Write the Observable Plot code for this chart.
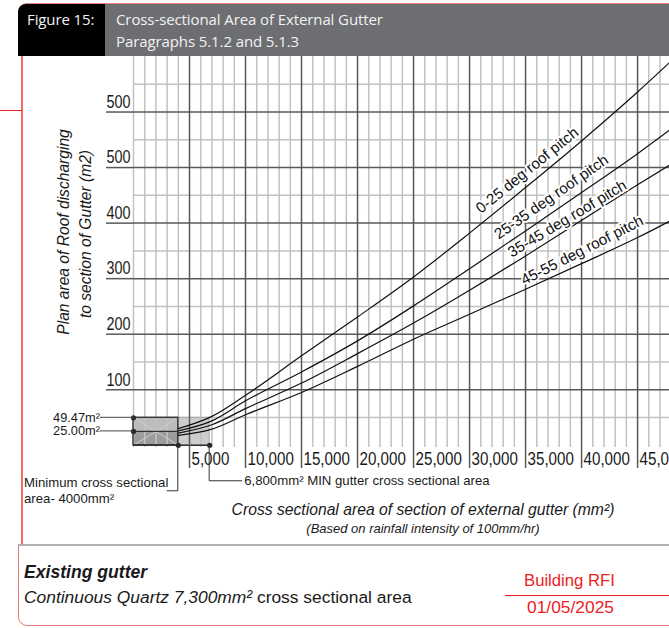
<!DOCTYPE html>
<html><head><meta charset="utf-8">
<script src="https://cdn.jsdelivr.net/npm/d3@7"></script>
<script src="https://cdn.jsdelivr.net/npm/@observablehq/plot@0.6"></script>
<style>
html,body{margin:0;padding:0;background:#fff;width:669px;height:628px;overflow:hidden;}
#page{position:relative;width:669px;height:628px;overflow:hidden;font-family:"Liberation Sans",Arial,sans-serif;color:#1a1a1a;}
#frame{position:absolute;left:18px;top:3px;width:720px;height:623px;border:1px solid #e77b7b;border-radius:9px;box-sizing:border-box;}
#hdrBlack{position:absolute;left:18px;top:4px;width:87px;height:52px;background:#000;border-top-left-radius:8px;}
#hdrGray{position:absolute;left:105px;top:4px;width:600px;height:52px;background:#6d6e71;}
.hdr{position:absolute;font-family:"Open Sans",sans-serif;font-size:15px;line-height:20px;color:#f2f2f2;white-space:nowrap;letter-spacing:-0.1px;}
#cover{position:absolute;left:17px;top:56px;width:5px;height:489px;background:#fff;}
#vred{position:absolute;left:21px;top:56px;width:1.5px;height:489px;background:#f26a6a;}
#hred{position:absolute;left:0;top:109.5px;width:22px;height:1.5px;background:#f01e1e;}
#sep{position:absolute;left:18px;top:544px;width:660px;height:2px;background:#b0b0b0;}
#chart{position:absolute;left:0;top:56px;}
.bt{position:absolute;white-space:nowrap;font-size:17.4px;line-height:20px;}
.red{color:#ee1c24;}
#rline{position:absolute;left:505px;top:594.5px;width:170px;height:1.5px;background:#ee1c24;}
</style>
</head><body>
<div id="page">
  <div id="frame"></div>
  <div id="hdrBlack"></div>
  <div id="hdrGray"></div>
  <div class="hdr" style="left:27px;top:9px;">Figure 15:</div>
  <div class="hdr" style="left:116px;top:9px;">Cross-sectional Area of External Gutter</div>
  <div class="hdr" style="left:116px;top:31px;">Paragraphs 5.1.2 and 5.1.3</div>
  <div id="cover"></div>
  <div id="vred"></div>
  <div id="hred"></div>
  <div id="chart"></div>
  <div id="sep"></div>
  <div class="bt" style="left:24px;top:562px;font-weight:bold;font-style:italic;font-size:17.6px;">Existing gutter</div>
  <div class="bt" style="left:24px;top:587px;"><i>Continuous Quartz 7,300mm²</i> cross sectional area</div>
  <div class="bt red" style="left:524px;top:571px;font-size:16.7px;">Building RFI</div>
  <div id="rline"></div>
  <div class="bt red" style="left:527px;top:597px;">01/05/2025</div>
</div>
<script>
// ---------- data ----------
const series = ["0-25 deg roof pitch", "25-35 deg roof pitch", "35-45 deg roof pitch", "45-55 deg roof pitch"];
const xValues = [4000, 7000, 10000, 15000, 20000, 25000, 30000, 35000, 40000, 45000, 47900];
const y0_25  = [30, 52, 90, 161, 231, 303, 382, 464, 548, 636, 690];
const y25_35 = [26, 44, 80, 132, 188, 251, 318, 386, 455, 525, 568];
const y35_45 = [22, 37, 66, 112, 165, 220, 279, 341, 405, 469, 505];
const y45_55 = [18, 29, 55, 95, 142, 191, 236, 281, 327, 374, 404];
const xTicks = [5000, 10000, 15000, 20000, 25000, 30000, 35000, 40000, 45000];
const yTicks = [100, 200, 300, 400, 500, 600];
const yTickLabels = ["100", "200", "300", "400", "500", "500"];
const minArea = [4000, 6800];        // mm²
const roofArea = [25.00, 49.47];     // m²

// ---------- build ----------
const SANS = '"Liberation Sans",Arial,sans-serif';
const XMAX = 47850, YMIN = -4, YMAX = 700;
const ys = [y0_25, y25_35, y35_45, y45_55];
const curveRows = series.flatMap((name, i) => xValues.map((x, j) => ({name, x, y: ys[i][j]})));
const xMinor = d3.range(0, XMAX, 1000).filter(d => d === 0 || d % 5000 !== 0);
const yMinor = d3.range(50, YMAX, 100);
const labelRows = [
  {text: series[0], x: 35150, y: 495, r: -39},
  {text: series[1], x: 37300, y: 447, r: -35},
  {text: series[2], x: 38720, y: 408, r: -31},
  {text: series[3], x: 40060, y: 351, r: -27}
];

const plot = Plot.plot({
  width: 669, height: 490,
  marginLeft: 133, marginRight: 0, marginTop: 0, marginBottom: 99,
  x: {domain: [0, XMAX], axis: null},
  y: {domain: [YMIN, YMAX], axis: null},
  style: {fontFamily: SANS, background: "transparent", overflow: "visible", color: "#1a1a1a"},
  marks: [
    // boxes (minimum areas)
    Plot.rect([0], {x1: minArea[0], x2: minArea[1], y1: 0, y2: roofArea[1], fill: "#cecece"}),
    Plot.rect([0], {x1: 0, x2: minArea[0], y1: roofArea[0], y2: roofArea[1], fill: "#bcbcbc"}),
    Plot.rect([0], {x1: 0, x2: minArea[0], y1: 0, y2: roofArea[0], fill: "#9c9c9c"}),
    // minor grid
    Plot.ruleX(xMinor, {y1: YMIN, y2: YMAX, stroke: "#c2c2c2", strokeWidth: 1.5}),
    Plot.ruleY(yMinor, {x1: 0, x2: XMAX, stroke: "#c2c2c2", strokeWidth: 1.5}),
    // box diagonals and outlines
    Plot.link([0], {x1: 0, y1: roofArea[1], x2: minArea[0], y2: 0, stroke: "#cfcfcf", strokeWidth: 1}),
    Plot.link([0], {x1: 0, y1: 0, x2: minArea[0], y2: roofArea[1], stroke: "#cfcfcf", strokeWidth: 1}),
    Plot.rect([0], {x1: minArea[0], x2: minArea[1], y1: 0, y2: roofArea[1], stroke: "#a8a8a8", strokeWidth: 1}),
    Plot.rect([0], {x1: 0, x2: minArea[0], y1: 0, y2: roofArea[1], stroke: "#333", strokeWidth: 1.4}),
    Plot.ruleY([roofArea[0]], {x1: 0, x2: minArea[0], stroke: "#333", strokeWidth: 1.4}),
    Plot.ruleY([0], {x1: 0, x2: minArea[1], stroke: "#333", strokeWidth: 1.4}),
    // major grid
    Plot.ruleX(xTicks, {y1: YMIN, y2: YMAX, stroke: "#585858", strokeWidth: 1.5}),
    Plot.ruleY(yTicks, {x1: 0, x2: XMAX, stroke: "#585858", strokeWidth: 1.5}),
    Plot.axisX(xTicks, {anchor: "bottom", tickSize: 21, tickFormat: () => "", stroke: "#585858", strokeWidth: 1.5, label: null}),
    Plot.axisY(yTicks, {anchor: "left", tickSize: 27, tickFormat: () => "", stroke: "#585858", strokeWidth: 1.5, label: null}),
    Plot.text(xTicks, {x: d => d, y: YMIN, text: d3.format(","), textAnchor: "start", lineAnchor: "middle",
      dx: 2, dy: 12, fontSize: 18, fill: "#1a1a1a", className: "xtl"}),
    Plot.text(yTicks, {x: 0, y: d => d, text: d => yTickLabels[yTicks.indexOf(d)], textAnchor: "end", lineAnchor: "middle",
      dx: -3, dy: -10, fontSize: 18, fill: "#1a1a1a", className: "ytl"}),
    // curves
    Plot.line(curveRows, {x: "x", y: "y", z: "name", curve: "monotone-x", stroke: "#111", strokeWidth: 1.2}),
    Plot.text(labelRows, {x: "x", y: "y", text: "text", rotate: "r", fontSize: 15.2,
      fill: "#111", stroke: "white", strokeWidth: 4}),
    // corner dots
    Plot.dot([[0, roofArea[1]], [0, roofArea[0]], [minArea[0], 0], [minArea[1], 0]], {x: d => d[0], y: d => d[1], r: 2.6, fill: "#2a2a2a"})
  ]
});
document.getElementById("chart").appendChild(plot);

// condensed tick labels (narrow face emulated by compressing glyphs)
function condense(sel, f) {
  d3.select(plot).selectAll(sel).each(function () {
    const len = this.getComputedTextLength();
    if (len > 0) this.setAttribute("textLength", (len * f).toFixed(1)), this.setAttribute("lengthAdjust", "spacingAndGlyphs");
  });
}
condense(".xtl text", 0.84);
condense(".ytl text", 0.80);

// ---------- annotations (positioned through the scales) ----------
const sx = plot.scale("x"), sy = plot.scale("y");
const svg = d3.select(plot);
const g = svg.append("g").attr("font-family", SANS).attr("fill", "#1a1a1a").attr("text-anchor", "start");
const x0 = sx.apply(0);
roofArea.forEach(v => {
  const y = sy.apply(v);
  g.append("line").attr("x1", x0 - 33).attr("x2", x0).attr("y1", y).attr("y2", y).attr("stroke", "#444").attr("stroke-width", 1);
  g.append("text").attr("x", x0 - 33).attr("y", y).attr("text-anchor", "end").attr("dy", "0.35em")
    .attr("font-size", 12.8).text(v.toFixed(2) + "m²");
});
const y0 = sy.apply(0), xa = sx.apply(minArea[0]), xb = sx.apply(minArea[1]);
g.append("path").attr("d", `M${xa},${y0}V${y0 + 46}H${xa - 11}`).attr("fill", "none").attr("stroke", "#333").attr("stroke-width", 1);
g.append("text").attr("x", 24).attr("y", y0 + 38).attr("dy", "0.35em").attr("font-size", 13.2).text("Minimum cross sectional");
g.append("text").attr("x", 24).attr("y", y0 + 54).attr("dy", "0.35em").attr("font-size", 13.2).text("area- 4000mm²");
g.append("path").attr("d", `M${xb},${y0}V${y0 + 36}H${xb + 33}`).attr("fill", "none").attr("stroke", "#333").attr("stroke-width", 1);
g.append("text").attr("x", xb + 35).attr("y", y0 + 36).attr("dy", "0.35em").attr("font-size", 13.2).text("6,800mm² MIN gutter cross sectional area");
// axis titles
g.append("text").attr("x", 423).attr("y", y0 + 65).attr("dy", "0.35em").attr("text-anchor", "middle")
  .attr("font-size", 15.7).attr("font-style", "italic").text("Cross sectional area of section of external gutter (mm²)");
g.append("text").attr("x", 423).attr("y", y0 + 84).attr("dy", "0.35em").attr("text-anchor", "middle")
  .attr("font-size", 13).attr("font-style", "italic").text("(Based on rainfall intensity of 100mm/hr)");
const yMid = 232 - 56;
g.append("text").attr("transform", `translate(64,${yMid}) rotate(-90)`).attr("dy", "0.35em").attr("text-anchor", "middle")
  .attr("font-size", 15.6).attr("font-style", "italic").text("Plan area of Roof discharging");
g.append("text").attr("transform", `translate(86,${yMid + 2}) rotate(-90)`).attr("dy", "0.35em").attr("text-anchor", "middle")
  .attr("font-size", 15.6).attr("font-style", "italic").text("to section of Gutter (m2)");
</script>
</body></html>
